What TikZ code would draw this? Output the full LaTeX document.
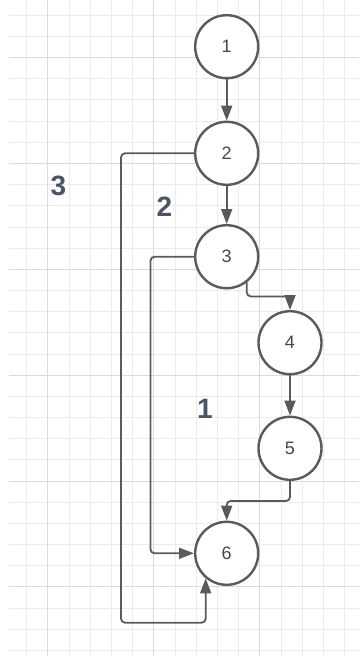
\documentclass[tikz,border=0pt]{standalone}
\usepackage{fontspec}
\setmainfont{Liberation Sans}
\usetikzlibrary{arrows.meta}
\definecolor{gridminor}{HTML}{EBEBEB}
\definecolor{gridmajor}{HTML}{DADADA}
\definecolor{edgegrey}{HTML}{5A5A5A}
\definecolor{regiontext}{HTML}{4C5468}
\tikzset{
block/.style={shape=circle, minimum size=63pt, inner sep=0, draw=edgegrey, line width=2.4pt, fill=white, text=black!72, font=\fontsize{18}{18}\selectfont}, flow/.style={draw=edgegrey, line width=1.8pt, rounded corners=4pt, -{Triangle[length=15pt, width=11pt]}}, region/.style={text=regiontext, font=\bfseries\fontsize{28}{28}\selectfont}}

\begin{document}
\begin{tikzpicture}[x=1pt, y=-1pt]
\useasboundingbox (0,0) rectangle (359,656);
% background grid
\foreach \k in {0,...,15}
  \draw [gridminor, line width=1pt] ({26.7+21.2*\k},0) -- ({26.7+21.2*\k},656);
\foreach \k in {0,...,30}
  \draw [gridminor, line width=1pt] (9,{15.3+21.17*\k}) -- (359,{15.3+21.17*\k});
\foreach \k in {1,6,11}
  \draw [gridmajor, line width=1pt] ({26.7+21.2*\k},0) -- ({26.7+21.2*\k},656);
\foreach \k in {2,7,...,27}
  \draw [gridmajor, line width=1pt] (9,{15.3+21.17*\k}) -- (359,{15.3+21.17*\k});
% flow graph
\node [block] (n1) at (226.7,46.7) {1};
\node [block] (n2) at (226.7,153.3) {2};
\node [block] (n3) at (226.7,256.7) {3};
\node [block] (n4) at (290,342.7) {4};
\node [block] (n5) at (290,448.3) {5};
\node [block] (n6) at (226.7,553.3) {6};
\draw [flow] (n1) -- (n2);
\draw [flow] (n2) -- (n3);
\draw [flow] (n3.-52) -- ++(0,14) -| (n4.north);
\draw [flow] (n4) -- (n5);
\draw [flow] (n5.south) -- ++(0,20) -| (n6.north);
\draw [flow] (n3.west) -- ++(-43.5,0) |- (n6.west);
\draw [flow] (n2.west) -- ++(-73,0) -- ++(0,469.4) -| (n6.230);
% region numbers
\node [region] (r3) at (58.3,186) {3};
\node [region] (r2) at (164.3,207) {2};
\node [region] (r1) at (205,408.5) {1};
\end{tikzpicture}
\end{document}
